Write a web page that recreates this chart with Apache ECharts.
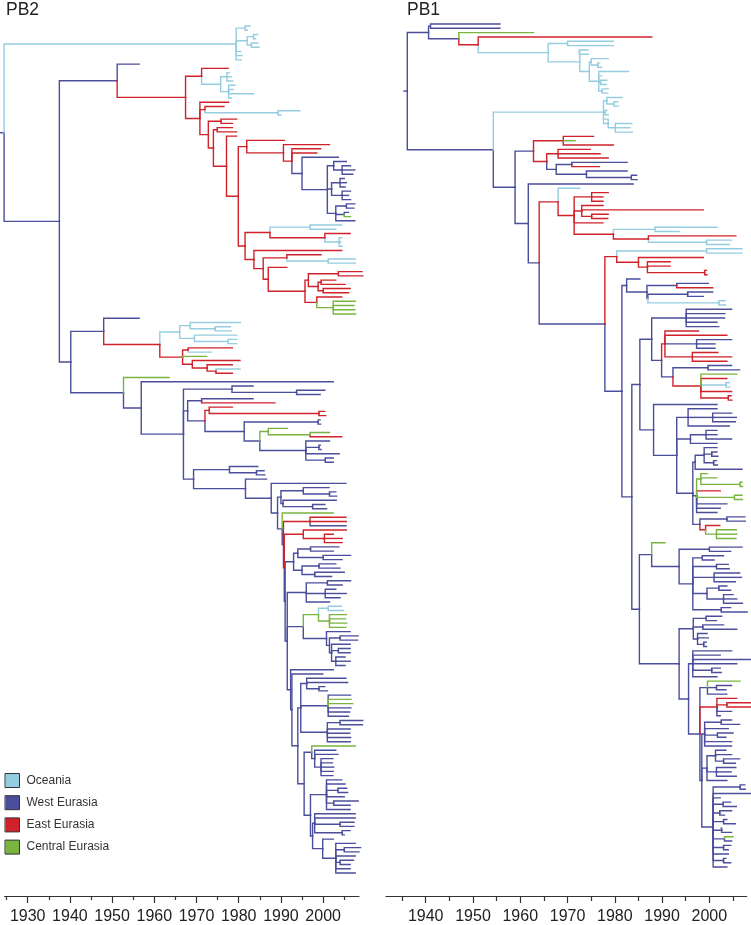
<!DOCTYPE html>
<html><head><meta charset="utf-8">
<script src="https://cdn.jsdelivr.net/npm/echarts@6/dist/echarts.min.js"></script>
<style>html,body{margin:0;padding:0;background:#fff}#c{width:751px;height:925px}</style>
</head><body><div id="c"></div>
<script>
// ---------- DATA ----------
const regionCodes = ['O', 'W', 'E', 'C'];
const regionNames = ['Oceania', 'West Eurasia', 'East Eurasia', 'Central Eurasia'];
const pb2TickLabels = [1930, 1940, 1950, 1960, 1970, 1980, 1990, 2000];
const pb2MinorTicks = [1925, 1935, 1945, 1955, 1965, 1975, 1985, 1995, 2005];
const pb1TickLabels = [1940, 1950, 1960, 1970, 1980, 1990, 2000];
const pb1MinorTicks = [1935, 1945, 1955, 1965, 1975, 1985, 1995, 2005];

// Trees in Newick-like notation: each node = region code + node date (year)
// PB2 clades
const pb2_A = '((O1982.7,O1982)O1981.5,((O1984.5,O1984)O1983.5,(O1984.5,O1984.8)O1983)O1982,O1980.5,O1980.8,O1980.6)O1979.4';
const pb2_C1 = '(E1977.5,((O1977.8,O1978.3,O1978.6)O1977.2,(O1979.1,O1978.7,O1983.5,O1978.3)O1977.6)O1975.7)E1971.2';
const pb2_Wb = '(W2003.6,((W2005.5,(W2006.5,W2007.5,W2007)W2004.5)W2002.5,((W2005,W2005.5,W2005.2)W2004,(W2006.5,W2006,W2006.5)W2004.5)W2002,((W2007.5,W2007.3)W2005.5,(W2006,C2006.5)W2005,W2007.5)W2003)W2001)W1995';
const pb2_F1 = '((O2004.4,O2003)O1996.9,(E2006.4,(O2004.4,O2004.2,O2004.5)O2003.8)E2000.4)E1987.4';
const pb2_F5 = '(((E2009.2,E2009.4)E2003.6,((E2003,E2005.2)E1999.5,(E2006.4,E2006)E2000)E1998.8)E1996.5,(E2004.4,(C2007.6,C2007.3,C2007.5,C2007.7)C2002.4)E1998.5)E1995.7';
const pb2_B2a = '(W1956.4,(((O1980.4,(O1978,O1978.2)O1974.4)O1968.5,(O1979.5,(O1979.5,O1979.5)O1977.5)O1969.5)O1966,((E1978.5,O1973.6)E1968,C1972.4,(E1980.3,(E1978.5,(O1980.3,E1978.5)E1974.6)E1972.5)E1969)E1966.7)E1961.3)W1948';
const pb2_Q1 = '((W2001.4,(W2003,W2003.2)W2001.5)W1995.3,(W2003.1,(W2000.4,W2000.8)W1997.5)W1990.5)W1990';
const pb2_G0 = '(((W2003.7,W2002.4)W1997,(W2006.5,W2004.5)W2000)W1994,((W2003,W2004)W1999,(W2005,W2002)W1998)W1995)W1993';
const pb2_G1 = '((W2006.5,W2004.5)W2001,(W2003,W2005.5,W2004)W2000.5,W2001.5)W1996';
const pb2_G2 = '((O2004.3,O2004.8)O2001.2,(C2005.5,C2005.3,C2005.6,C2005.4)C2001.5)C1998.9';
const pb2_G3 = '(W2006.4,((W2008.3,W2008.2)W2004,(W2006.4,(W2006.4,W2006.4)W2003.6,(W2005.2,W2006.4,W2005.2)W2003)W2002)W2001.5)W2000.8';
const pb2_G5 = '((W2005.4,W2005.8,(W2000.4,W2001)W1999)W1996.1,(W2006.5,C2006.6,C2007,W2006.6,W2006.3,W2006)W2001.2,((W2009.4,W2009.3)W2004,W2006.4,W2006.3,W2006.5,W2006.4)W2001)W1994.7';
const pb2_G6 = '(C2007.6,(W2003,W2003.5,(W2002.3,W2002.2,W2002.5,W2002.4,W2002.3)W1999.5)W1998)W1997.3';
const pb2_G7 = '(W2004.4,W2005.2,(W2005.6,W2005.8)W2003.5,W2005,(W2008.3,W2006.4)W2002.5,W2006.4)W2000.8';
const pb2_G8 = '(W2007.6,W2007.6,(W2007.3,W2007.3)W2004,(W2006.4,W2005)W2004.5)W1998';
const pb2_G9 = '(W2002.4,(W2007.6,(W2008.9,W2008.5)W2005,W2007.6,(W2007.2,W2006.4)W2004,W2006.4,W2007.6)W2003)W1999.9';

// PB1 clades
const pb1_Oc = '((O1979.7,O1979.7)O1970,((O1974.3,O1974.4)O1972.5,((O1978.6,(O1976.8,O1977.2)O1976.4)O1975,(O1982.9,O1977.2,(O1978.3,O1978.2)O1977,(O1978.6,O1978.5)O1977.3)O1976.6)O1974.6)O1972.6)O1965.9';
const pb1_Oc2 = '((O1981.5,(O1980.6,O1980.8)O1979.8)O1978.3,(O1978.3,O1978.6)O1977.9,(O1977.8,(O1983.6,O1983.2,O1983.7)O1980.1)O1978.6)O1977.6';
const pb1_E1 = '((E1975.5,C1971.6,E1979.7)E1969.1,((E1974.8,E1976.9,E1978.6)E1968,((W1982.6,E1976.7)W1970.9,(W1982.6,(W1984.6,W1984.7)W1983.5)W1974)W1967.6)E1965.6)W1962.8';
const pb1_Eg = '(O1972.6,((E1978.6,E1977.5,E1977.5)E1975.1,(E1977.5,E1998.7,(E1978.6,E1978.5)E1975.1)E1973,E1977.5,((O2001.6,O1993.6)O1988.5,(E2005.6,(O2004.7,O2004.2)O1999.4)E1987.1)E1979.7)E1971.4)E1968';
const pb1_Vr = '((O2006.9,O2006.9)O1999.4,(E1998.7,(E1991.7,E1991.7,(E1999.4,E1999.5)E1999)E1986.9)E1985)E1980.4';
const pb1_V2a = '(W1985.3,((W1999.8,E2000.7)W1993.1,((W2000.7,W1998.7)W1995.4,(O2003.3,O2003.4)O2002)W1987)W1986.8)W1982.5';
const pb1_U1 = '((W2004.7,W2003.3,W2003.2,W2001.6,W2002)W1995.1,((E1997.7,E2003.7,(W2004.7,W2001.2,W2001.2)W1997.3,(E2001.8,E2004.7,E2003.7)E1996.4)E1990.6,((W2004.7,W2006.4)W1999.7,(C2005.8,E2003.7,(O2004.2,O2004.3)O2003.5,E2004.7,(E2004.6,E2004.8)E2004)E1998.2)W1992.3)W1989.9)W1987.8';
const pb1_U2 = '(W2001.6,((W2001.6,(W2004.7,W2005.7,W2005.5)W2000.7,W2004.2)W1995.5,((W2001.6,W2001.6,W2004.7)W1999.3,W2001.6)W1996,(((W2001.6,(W2001.6,W2001.8)W2000.5,(W2001.5,W2001.7)W2000.9)W1998.9,W2006.9)W1997,((C1999.6,C2001.6,(C2006.9,C2007)C2006.5)C1998.2,E2002.3,(C2006.9,C2007)C2005.3,W2003.7,W2002.3,W2001.6)W1997.3,((W2007.5,W2007.6)W2003.7,(E2002.2,(C2005.7,C2005.8,C2005.6)C2001.5)E1999.2)W1998)W1996.5)W1993.1)W1988.2';
const pb1_Us = '(C1990.6,((W2006.9,W2004.5)W2000,((W2003,W2001)W1998.5,(W2004,W2004.2)W2001.5,(W2006.4,W2006.8,W2005.5)W2001,((W2003.7,W2004.5)W2002,(W2005,W2005.8,W2007)W2003)W1999.5,(W2004.5,W2008)W2002.5)W1996.5)W1993.6)W1987.8';
const pb1_Ua = '((W2002.6,W2001.5)W1999.3,(W2003,W2005.8)W1998.6,(W1999.5,W1999.8,(W1999.3,W1999.4)W1998.8)W1997.5)W1996.6';
const pb1_g1 = '(W2004.7,W2002.3,W2008.9,W2005.8,(W2002.3,W2002.5)W2000.5,W2001.6)W1996.5';
const pb1_g2 = '(C2006.5,(W2004.7,W2003.5)W2001.5,W2003.7)W1999.6';
const pb1_g3 = '(E2005.8,(E2008.9,E2008.9)E2003.7,W2004.7,W2002.3)E2001.6';
const pb1_g4 = '((W2004.7,W2006.4)W2002.5,W2004,(W2005,W2003.5)W2001.7,W2004.7,W2004.7)W1999';
const pb1_g5 = '((W2003.5,W2004.7,(W2006.4,W2005.5)W2003)W2001.3,(W2005.6,W2004.6,W2005.7)W2001.5,W2003.7)W1999.5';
const pb1_g6 = '((W2007.5,W2007.6)W2006.5,W2008.9,W2002.3,(W2004.5,W2005.7)W2002.9,(W2004.7,W2003.2)W2002.2,(W2003.7,W2005.5)W2003,(W2002.5,W2004.7)W2002.6,(C2005,W2004.7)W2003.2,(W2004.5,W2004)W2003,W2004,(W2003.5,W2004.5)W2003,W2003.7)W2000.8';

// ---------- assemble trees ----------
const pb2_D = `(E1990.8,(E2001.5,(E1999.4,E1998.5,${pb2_Wb})E1992.6)E1990.6)E1981.9`;
const pb2_F = `(${pb2_F1},(E2004.4,((E1999.5,(O2007.6,O2007.6)O2001.2)E1991.4,(E1991.4,${pb2_F5})E1987)E1985.8)E1983.6)E1981.5`;
const pb2_L4 = `(${pb2_D},${pb2_F})E1979.9`;
const pb2_L3 = `(E1979.5,${pb2_L4})E1977.1`;
const pb2_L2 = `((E1978.5,E1979.5)E1974.9,${pb2_L3})E1974`;
const pb2_L1 = `((E1979.5,E1978.5)E1975.8,${pb2_L2})E1972.8`;
const pb2_C2 = `(E1977.6,(E1976.5,(O1994.5,O1990)O1989.3)E1972,${pb2_L1})E1970.8`;
const pb2_C = `(${pb2_C1},${pb2_C2})E1967.4`;
const pb2_B1 = `(W1956.4,${pb2_C})W1951.2`;
const pb2_Q12 = `(${pb2_G8},${pb2_G9})W1997.5`;
const pb2_Q11 = `(${pb2_G7},${pb2_Q12})W1997`;
const pb2_Q10 = `(${pb2_G6},${pb2_Q11})W1995.5`;
const pb2_Q9 = `(${pb2_G5},${pb2_Q10})W1994`;
const pb2_Q8 = `(W1999.9,${pb2_Q9})W1992.6`;
const pb2_Q7 = `(W2002.4,${pb2_Q8})W1992.3`;
const pb2_Q6 = `(${pb2_G1},(${pb2_G2},${pb2_G3})W1995.3,${pb2_Q7})W1991.5`;
const pb2_Q5 = `(${pb2_G0},${pb2_Q6})W1991`;
const pb2_Q4 = `((E2005.5,(E2002.4,E2004.5,E2004.5)E2000.3)E1995.3,${pb2_Q5})W1990.8`;
const pb2_Q3 = `((E2005.4,E2005.5,W2005.4)E1996.9,${pb2_Q4})W1990.6`;
const pb2_Q2 = `(C2002.4,${pb2_Q3})W1990.3`;
const pb2_Q = `(${pb2_Q1},${pb2_Q2})W1989.2`;
const pb2_P = `(W2005.4,${pb2_Q})W1987.7`;
const pb2_B2b = `(C1963.5,(W2002.4,((W1983.4,(W2000.4,W1999.3)W1993.7)W1978.4,((W1983.4,E1988.6)W1971.2,((E1978.5,(E2000.4,E2000.6)E1999)E1973,((W1999.3,W1999.4)W1998.8,((C1991.5,(C2001.5,E2004.4)C1996.9)C1987,(W2001.5,(W1999.3,W1999.5)W1999,W2003.8,(W2002.4,W2002.4)W2000.5)W1995.9)W1985)W1981.3)W1972)W1967.9,((W1984.5,(W1986,W1986.2)W1984.2)W1977.8,(W1986.6,${pb2_P})W1981.6)W1969.3)W1966.9)W1956.9)W1952.7`;
const pb2_B2 = `(${pb2_B2a},${pb2_B2b})W1940.2`;
const pb2_B = `(${pb2_B1},${pb2_B2})W1937.5`;
const pb2Newick = `(${pb2_A},${pb2_B})W1924.4`;

const pb1_U = `(C1962.8,(E1987.8,${pb1_Oc})E1951.1)W1947`;
const pb1_T = `((W1955.7,W1955.7)W1941,${pb1_U})W1940.6`;
const pb1_L0 = `(${pb1_g1},(${pb1_g2},${pb1_g3},(${pb1_g4},${pb1_g5},${pb1_g6})W1998.4)W1998)W1995.6`;
const pb1_S3 = `(${pb1_Ua},${pb1_L0})W1993.6`;
const pb1_S2 = `(${pb1_Us},${pb1_S3})W1985.2`;
const pb1_S1 = `(${pb1_U1},${pb1_U2})W1985.3`;
const pb1_V2b = `(${pb1_S1},${pb1_S2})W1983.6`;
const pb1_V2 = `(${pb1_V2a},${pb1_V2b})W1981.5`;
const pb1_V = `(${pb1_Vr},${pb1_V2})W1977.9`;
const pb1_K4 = `(${pb1_Eg},${pb1_V})W1964`;
const pb1_K3 = `(W1983.9,${pb1_K4})W1961.7`;
const pb1_K2 = `(${pb1_E1},${pb1_K3})W1958.9`;
const pb1_K = `(${pb1_Oc2},${pb1_K2})W1954.3`;
const pb1Newick = `(${pb1_T},${pb1_K})W1936.1`;

// ---------- helpers ----------
function parseTree(s) {
  s = s.replace(/\s+/g, '');
  let i = 0;
  function node() {
    const n = { children: [] };
    if (s[i] === '(') {
      i++;
      n.children.push(node());
      while (s[i] === ',') { i++; n.children.push(node()); }
      i++;
    }
    const m = /^([OWEC])(\d+(?:\.\d+)?)/.exec(s.slice(i));
    n.region = m[1]; n.year = +m[2]; i += m[0].length;
    return n;
  }
  return node();
}
function layoutTree(root) {
  let k = 0;
  (function walk(n) {
    if (!n.children.length) { n.y = k++; }
    else { n.children.forEach(walk); n.y = (n.children[0].y + n.children[n.children.length - 1].y) / 2; }
  })(root);
  return k;
}
function branchData(root, stub) {
  const out = { O: [], W: [], E: [], C: [] };
  out[root.region].push({ coords: [[root.year - stub, root.y], [root.year, root.y]] });
  (function walk(n) {
    n.children.forEach(c => {
      out[c.region].push({ coords: [[n.year, n.y], [n.year, c.y], [c.year, c.y]] });
      walk(c);
    });
  })(root);
  return out;
}

// ---------- styles ----------
const regionColors = { O: '#95cde0', W: '#4a4e9b', E: '#d0222a', C: '#79b43f' };
const FONT = '"Liberation Sans", Arial, Helvetica, sans-serif';
const AXIS_COLOR = '#333';

const tree2 = parseTree(pb2Newick); const n2 = layoutTree(tree2);
const tree1 = parseTree(pb1Newick); const n1 = layoutTree(tree1);
const b2 = branchData(tree2, 1.0);
const b1 = branchData(tree1, 0.7);

function majorAxis(gridIndex, min, max, labels, offset) {
  return { gridIndex, type: 'value', min, max, position: 'bottom', offset,
    axisLine: { show: true, onZero: false, lineStyle: { color: AXIS_COLOR, width: 1.2 } },
    axisTick: { show: true, customValues: labels, length: 7, lineStyle: { color: AXIS_COLOR, width: 1.2 } },
    axisLabel: { show: true, customValues: labels, margin: 13, fontSize: 16, color: '#222', fontFamily: FONT, formatter: v => String(v) },
    splitLine: { show: false } };
}
function minorAxis(gridIndex, min, max, ticks, offset) {
  return { gridIndex, type: 'value', min, max, position: 'bottom', offset,
    axisLine: { show: false, onZero: false },
    axisTick: { show: true, customValues: ticks, length: 4, lineStyle: { color: AXIS_COLOR, width: 1.2 } },
    axisLabel: { show: false }, splitLine: { show: false } };
}

const series = [];
[[b2, 0], [b1, 1]].forEach(([b, gi]) => {
  ['W', 'O', 'E', 'C'].forEach(code => {
    const idx = regionCodes.indexOf(code);
    series.push({
      type: 'lines', name: regionNames[idx], coordinateSystem: 'cartesian2d',
      xAxisIndex: gi, yAxisIndex: gi, polyline: true, clip: false, silent: true,
      animation: false, data: b[code],
      lineStyle: { color: regionColors[code], width: 1.4, opacity: 1, cap: 'square' },
      itemStyle: { color: regionColors[code] }
    });
  });
});

const grid2 = { left: 4.5, width: 354.5, top: 26, height: 847 };
const grid1 = { left: 386, width: 360.7, top: 24, height: 844 };

const chart = echarts.init(document.getElementById('c'), null, { renderer: 'canvas' });
chart.setOption({
  backgroundColor: '#fff',
  animation: false,
  title: [
    { text: 'PB2', left: 6, top: 1, padding: 0, textStyle: { fontSize: 17.5, fontWeight: 'normal', color: '#222', fontFamily: FONT } },
    { text: 'PB1', left: 407, top: 1, padding: 0, textStyle: { fontSize: 17.5, fontWeight: 'normal', color: '#222', fontFamily: FONT } }
  ],
  legend: {
    orient: 'vertical', left: 5, top: 773, padding: 0, itemWidth: 14, itemHeight: 14, itemGap: 7.2,
    icon: 'rect', selectedMode: false,
    textStyle: { fontSize: 12, color: '#333', fontFamily: FONT, padding: [0, 0, 0, 2] },
    data: regionNames.map((n, i) => ({ name: n, itemStyle: { color: regionColors[regionCodes[i]], borderColor: '#333', borderWidth: 1 } }))
  },
  grid: [grid2, grid1, Object.assign({}, grid2), Object.assign({}, grid1)],
  xAxis: [
    majorAxis(0, 1924.5, 2008.5, pb2TickLabels, 23),
    majorAxis(1, 1931.6, 2007.9, pb1TickLabels, 29),
    minorAxis(2, 1924.5, 2008.5, pb2MinorTicks, 23),
    minorAxis(3, 1931.6, 2007.9, pb1MinorTicks, 29)
  ],
  yAxis: [
    { gridIndex: 0, type: 'value', min: 0, max: n2 - 1, inverse: true, show: false },
    { gridIndex: 1, type: 'value', min: 0, max: n1 - 1, inverse: true, show: false },
    { gridIndex: 2, type: 'value', min: 0, max: 1, show: false },
    { gridIndex: 3, type: 'value', min: 0, max: 1, show: false }
  ],
  series
});
</script></body></html>
